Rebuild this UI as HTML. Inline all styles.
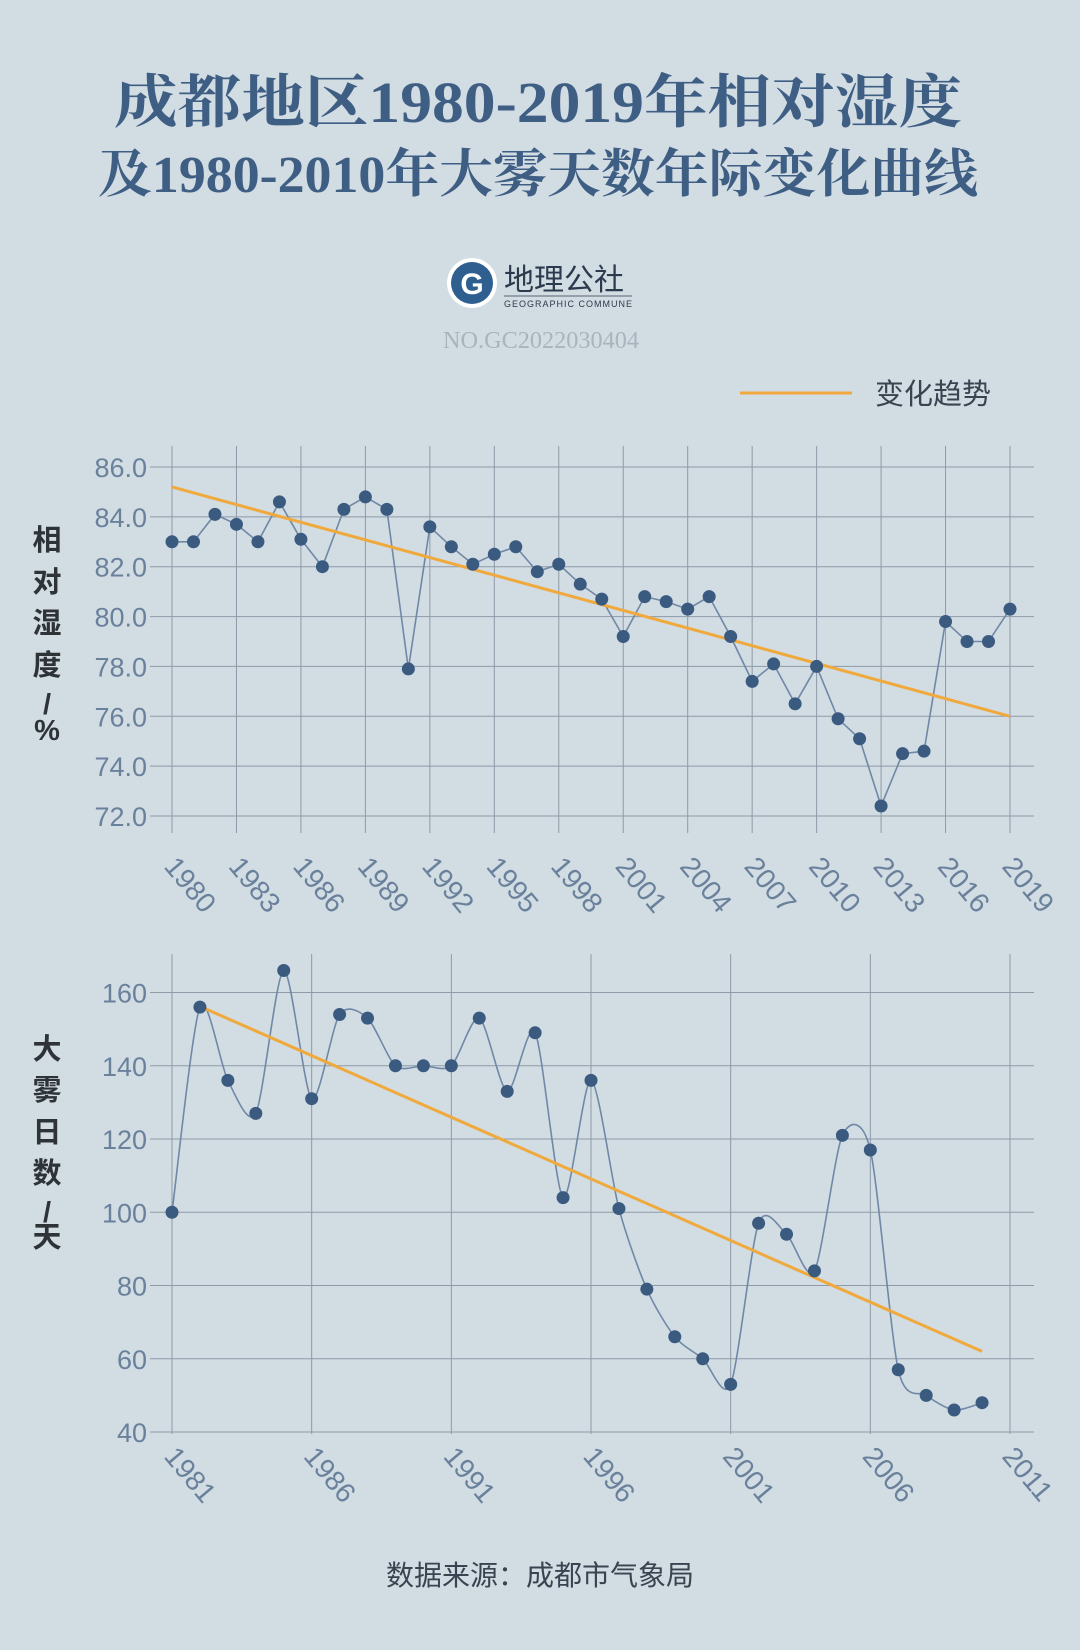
<!DOCTYPE html>
<html><head><meta charset="utf-8">
<style>
html,body{margin:0;padding:0;}
body{width:1080px;height:1650px;background:#d2dce3;overflow:hidden;}
svg{display:block;}
</style></head>
<body>
<svg id="s" width="1080" height="1650" xmlns="http://www.w3.org/2000/svg">
<rect width="1080" height="1650" fill="#d2dce3"/>
<g font-family="'Liberation Serif','Noto Serif CJK SC',serif" font-weight="bold" fill="#3e5e84" text-anchor="middle">
<text x="538" y="122" font-size="58" textLength="848" lengthAdjust="spacingAndGlyphs">成都地区1980-2019年相对湿度</text>
<text x="538" y="192" font-size="52" textLength="880" lengthAdjust="spacingAndGlyphs">及1980-2010年大雾天数年际变化曲线</text>
</g>
<circle cx="472" cy="283" r="25" fill="#fff"/>
<circle cx="472" cy="283" r="21" fill="#2f5f8f"/>
<text x="472" y="294" font-family="'Liberation Sans',sans-serif" font-weight="bold" font-size="30" fill="#fff" text-anchor="middle">G</text>
<text x="504" y="290" font-family="'Liberation Sans','Noto Sans CJK SC',sans-serif" font-size="30" fill="#2b3a4c">地理公社</text>
<line x1="504" y1="296" x2="632" y2="296" stroke="#2b3a4c" stroke-width="0.8"/>
<text x="504" y="307" font-family="'Liberation Sans',sans-serif" font-size="9" fill="#2b3a4c" textLength="128">GEOGRAPHIC  COMMUNE</text>
<text x="541" y="348" font-family="'Liberation Serif',serif" font-size="24" fill="#a9b4bd" text-anchor="middle" textLength="196" lengthAdjust="spacingAndGlyphs">NO.GC2022030404</text>
<line x1="740" y1="393" x2="852" y2="393" stroke="#f0a93c" stroke-width="3"/>
<text x="875" y="404" font-family="'Liberation Sans','Noto Sans CJK SC',sans-serif" font-size="29" fill="#3a4450">变化趋势</text>
<g font-family="'Liberation Sans','Noto Sans CJK SC',sans-serif" font-weight="bold" font-size="29" fill="#2e3338" text-anchor="middle">
<text x="47" y="550">相</text><text x="47" y="592">对</text><text x="47" y="633">湿</text><text x="47" y="675">度</text><text x="47" y="714">/</text><text x="47" y="740">%</text>
<text x="47" y="1059">大</text><text x="47" y="1100">雾</text><text x="47" y="1142">日</text><text x="47" y="1183">数</text><text x="47" y="1222">/</text><text x="47" y="1247">天</text>
</g>
<g id="c1"></g><g id="c2"></g>
<text x="540" y="1585" font-family="'Liberation Sans','Noto Sans CJK SC',sans-serif" font-size="28" fill="#3a4450" text-anchor="middle">数据来源：成都市气象局</text>
</svg>
<script>
var NS="http://www.w3.org/2000/svg";
function el(p,t,a,txt){var e=document.createElementNS(NS,t);for(var k in a)e.setAttribute(k,a[k]);if(txt!=null)e.textContent=txt;p.appendChild(e);return e;}
var F="'Liberation Sans',sans-serif";
var TC='#6a819c';
var g1=document.getElementById('c1');
var H=[83.0,83.0,84.1,83.7,83.0,84.6,83.1,82.0,84.3,84.8,84.3,77.9,83.6,82.8,82.1,82.5,82.8,81.8,82.1,81.3,80.7,79.2,80.8,80.6,80.3,80.8,79.2,77.4,78.1,76.5,78.0,75.9,75.1,72.4,74.5,74.6,79.8,79.0,79.0,80.3];
function x1(i){return 172+i*(1010-172)/39;}
function y1(v){return 467+(86-v)*(816-467)/14;}
for(var v=72;v<=86;v+=2){el(g1,'line',{x1:150,x2:1034,y1:y1(v),y2:y1(v),stroke:'#8d9aa8','stroke-width':1});
 el(g1,'text',{x:147,y:y1(v)+10,'font-family':F,'font-size':27,fill:TC,'text-anchor':'end'},v.toFixed(1));}
for(var i=0;i<40;i+=3){var x=x1(i);el(g1,'line',{x1:x,x2:x,y1:446,y2:833,stroke:'#8d9aa8','stroke-width':1});
 el(g1,'text',{x:0,y:0,'font-family':F,'font-size':28,fill:TC,transform:'translate('+(x-9)+',867) rotate(50)'},1980+i);}
var d='';for(var i=0;i<40;i++)d+=(i?'L':'M')+x1(i)+','+y1(H[i]);
el(g1,'path',{d:d,fill:'none',stroke:'#7088a6','stroke-width':1.6});
el(g1,'line',{x1:x1(0),y1:y1(85.2),x2:x1(39),y2:y1(76.0),stroke:'#f0a93c','stroke-width':3});
for(var i=0;i<40;i++)el(g1,'circle',{cx:x1(i),cy:y1(H[i]),r:6.5,fill:'#3b5a80'});
var g2=document.getElementById('c2');
var D=[100,156,136,127,166,131,154,153,140,140,140,153,133,149,104,136,101,79,66,60,53,97,94,84,121,117,57,50,46,48];
function x2(i){return 172+i*(1010-172)/30;}
function y2(v){return 992.5+(160-v)*(1432-992.5)/120;}
for(var v=40;v<=160;v+=20){el(g2,'line',{x1:150,x2:1034,y1:y2(v),y2:y2(v),stroke:'#8d9aa8','stroke-width':1});
 el(g2,'text',{x:147,y:y2(v)+10,'font-family':F,'font-size':27,fill:TC,'text-anchor':'end'},v);}
for(var i=0;i<=30;i+=5){var x=x2(i);el(g2,'line',{x1:x,x2:x,y1:954,y2:1434,stroke:'#8d9aa8','stroke-width':1});
 el(g2,'text',{x:0,y:0,'font-family':F,'font-size':28,fill:TC,transform:'translate('+(x-9)+',1457) rotate(50)'},1981+i);}
var P=D.map(function(v,i){return [x2(i),y2(v)];});
var d='M'+P[0][0]+','+P[0][1];
for(var i=0;i<P.length-1;i++){var p0=P[i-1]||P[i],p1=P[i],p2=P[i+1],p3=P[i+2]||P[i+1],k=7.5;
 var c1=[p1[0]+(p2[0]-p0[0])/k,p1[1]+(p2[1]-p0[1])/k],c2=[p2[0]-(p3[0]-p1[0])/k,p2[1]-(p3[1]-p1[1])/k];
 d+='C'+c1+' '+c2+' '+p2;}
el(g2,'path',{d:d,fill:'none',stroke:'#7088a6','stroke-width':1.6});
el(g2,'line',{x1:x2(1)+6,y1:y2(155.5),x2:x2(29),y2:y2(62),stroke:'#f0a93c','stroke-width':3});
for(var i=0;i<30;i++)el(g2,'circle',{cx:P[i][0],cy:P[i][1],r:6.5,fill:'#3b5a80'});
</script>
</body></html>
